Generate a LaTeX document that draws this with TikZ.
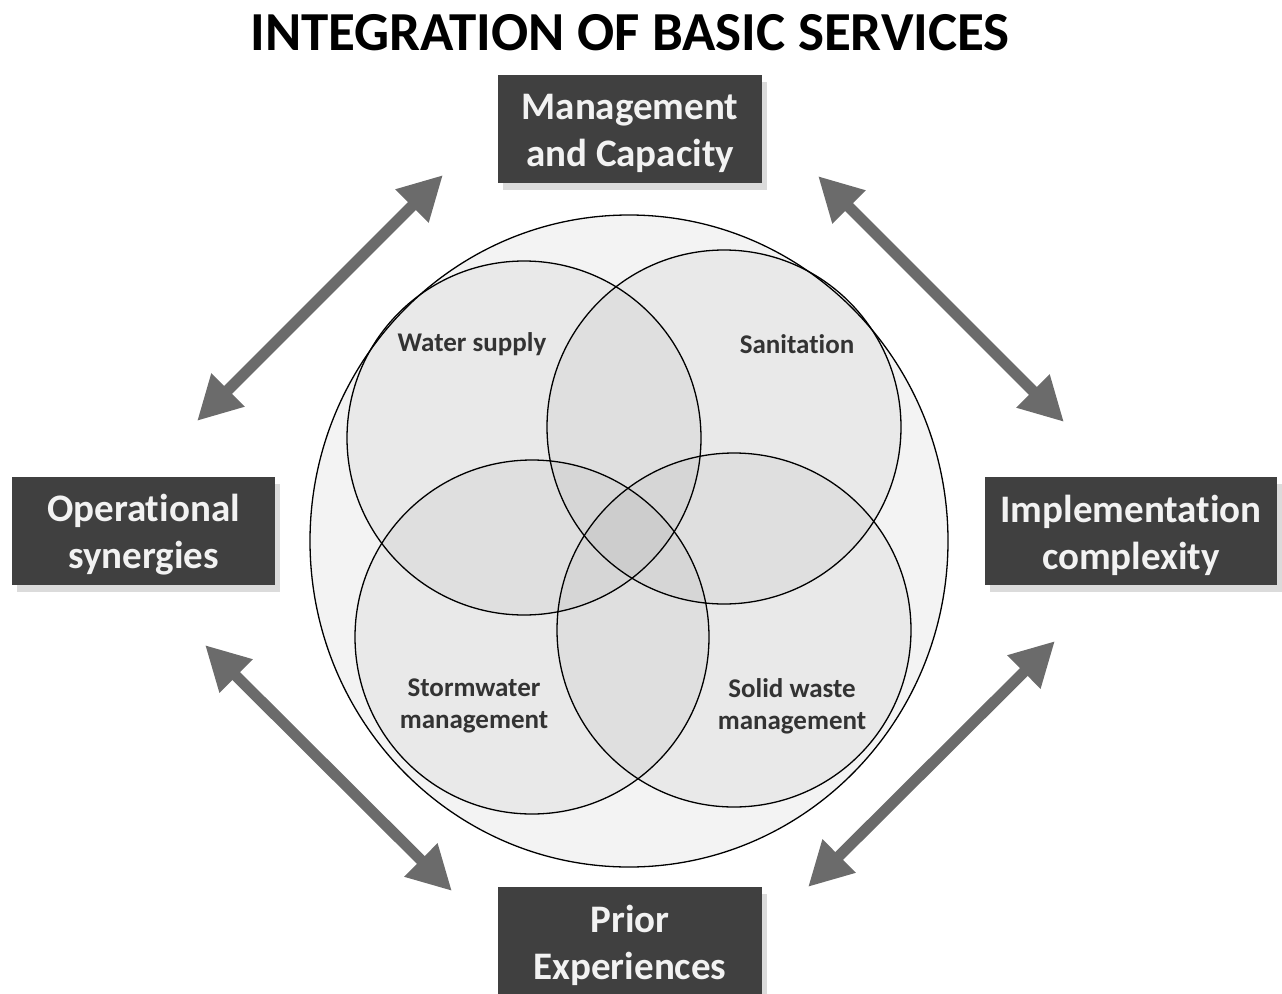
\documentclass[tikz,border=0pt]{standalone}
\usepackage{fontspec}
\setmainfont[RawFeature=-liga]{Carlito}
\usetikzlibrary{arrows.meta,shadows}
\definecolor{boxgrey}{HTML}{404040}
\definecolor{boxtext}{HTML}{F2F2F2}
\definecolor{arrowgrey}{HTML}{6B6B6B}
\definecolor{ringfill}{HTML}{F3F3F3}
\definecolor{labelgrey}{HTML}{333333}
\begin{document}
\begin{tikzpicture}[x=1pt,y=-1pt,
  factorbox/.style={fill=boxgrey, inner sep=0pt,
    minimum width=264pt, minimum height=108pt,
    drop shadow={shadow xshift=5pt, shadow yshift=-7pt, fill=black, opacity=0.14}},
  factortext/.style={text=boxtext, inner sep=0pt, align=center,
    font=\bfseries\fontsize{39}{47}\selectfont},
  service/.style={draw=black, line width=1.3pt, fill=black, fill opacity=0.04},
  servicelabel/.style={text=labelgrey, align=center,
    font=\bfseries\fontsize{27}{32}\selectfont},
  link/.style={draw=arrowgrey, line width=11pt,
    {Triangle[length=44pt,width=44pt]}-{Triangle[length=44pt,width=44pt]}}]
\useasboundingbox (0,0) rectangle (1282,993);

% title
\node (title) at (630,33) {\bfseries\fontsize{55}{64}\selectfont INTEGRATION OF BASIC SERVICES};

% outer circle holding the four services
\draw[fill=ringfill, line width=1.3pt] (629,541) ellipse [x radius=319, y radius=326];

% the four overlapping services
\path[service] (524,438) circle [radius=177];
\path[service] (724,427) circle [radius=177];
\path[service] (532,637) circle [radius=177];
\path[service] (734,630) circle [radius=177];

\node[servicelabel] (water) at (472,344) {Water supply};
\node[servicelabel] (sanit) at (797,344) {Sanitation};
\node[servicelabel] (storm) at (474,706) {Stormwater\\management};
\node[servicelabel] (solid) at (792,706) {Solid waste\\management};

% factor boxes with their captions
\node[factorbox] (mgmt) at (630,129) {};
\node[factorbox, minimum width=263pt] (oper) at (143.5,531) {};
\node[factorbox, minimum width=292pt] (impl) at (1131,531) {};
\node[factorbox] (prior) at (630,941) {};
\node[factortext] (mgmtT) at ([yshift=-4pt]mgmt.center) {Management\\and Capacity};
\node[factortext] (operT) at ([yshift=-4pt]oper.center) {Operational\\synergies};
\node[factortext] (implT) at ([yshift=-4pt]impl.center) {Implementation\\complexity};
\node[factortext] (priorT) at ([yshift=-4pt]prior.center) {Prior\\Experiences};

% double-headed links between neighbouring factors
\coordinate (a1) at (197,421);
\coordinate (a2) at (443,175);
\coordinate (b1) at (818,176);
\coordinate (b2) at (1064,422);
\coordinate (c1) at (205,645);
\coordinate (c2) at (452,891);
\coordinate (d1) at (808,887);
\coordinate (d2) at (1055,641);
\draw[link] (a1) -- (a2);
\draw[link] (b1) -- (b2);
\draw[link] (c1) -- (c2);
\draw[link] (d1) -- (d2);
\end{tikzpicture}
\end{document}
